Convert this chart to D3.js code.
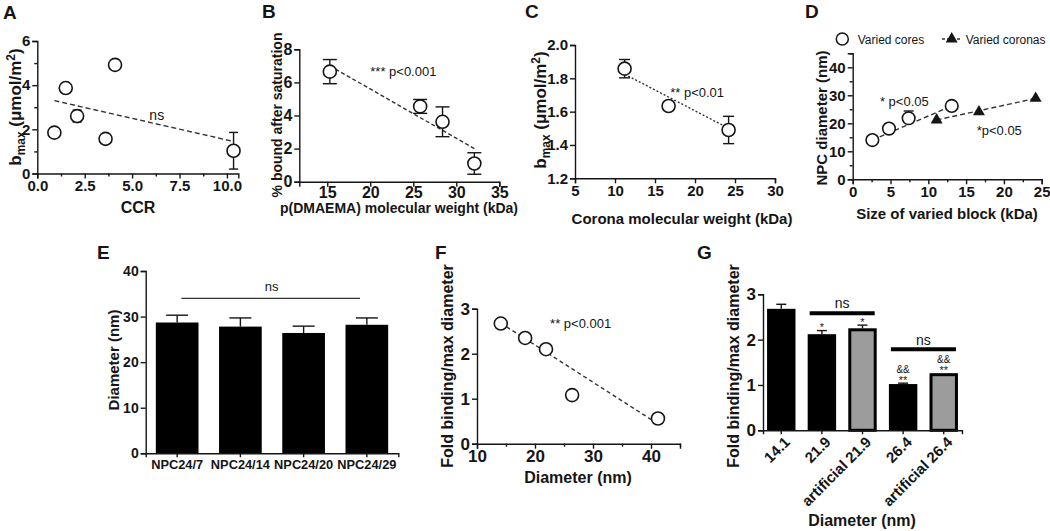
<!DOCTYPE html>
<html>
<head>
<meta charset="utf-8">
<script src="https://cdn.jsdelivr.net/npm/d3@7"></script>
<style>
  body { margin: 0; background: #fff; }
</style>
</head>
<body>
<div id="chart"></div>
<script>
var FONT = "'Liberation Sans', Arial, Helvetica, sans-serif";
var INK = "#151515";

// A - bmax vs CCR
var ccr = [0.9, 1.5, 2.1, 3.6, 4.1, 10.35];
var bmaxA = [1.85, 3.87, 2.6, 1.57, 4.92, 1.03];
var bmaxAErr = [0, 0, 0.27, 0, 0, 0.83];
var fitA = [[0.9, 3.3], [10.35, 1.45]];

// B - % bound vs p(DMAEMA) MW
var mwB = [15.3, 25.8, 28.4, 32.1];
var boundB = [6.65, 4.55, 3.62, 1.1];
var boundBErr = [0.73, 0.42, 0.9, 0.65];
var fitB = [[15.3, 7.0], [32.1, 2.0]];

// C - bmax vs corona MW
var mwC = [11.2, 16.7, 24.2];
var bmaxC = [1.858, 1.634, 1.49];
var bmaxCErr = [0.055, 0, 0.082];
var fitC = [[11.2, 1.825], [24.2, 1.5]];

// D - NPC diameter vs size of varied block
var coreSize = [2.6, 4.8, 7.4, 13.1];
var coreDiam = [14.0, 18.1, 21.8, 26.2];
var coreErrUp = [0, 0, 2.6, 0];
var coronaSize = [11.1, 16.7, 24.2];
var coronaDiam = [21.2, 24.1, 28.9];

// E - diameters
var npcNames = ["NPC24/7", "NPC24/14", "NPC24/20", "NPC24/29"];
var npcDiam = [28.7, 27.8, 26.4, 28.2];
var npcErr = [1.6, 1.9, 1.5, 1.5];

// F - fold binding vs diameter
var diamF = [14.1, 18.3, 21.9, 26.4, 41.2];
var foldF = [2.67, 2.35, 2.1, 1.08, 0.56];
var fitF = [[14.1, 2.68], [41.2, 0.44]];

// G - fold binding per diameter
var gNames = ["14.1", "21.9", "artificial 21.9", "26.4", "artificial 26.4"];
var gFold = [2.68, 2.12, 2.25, 1.02, 1.26];
var gErr = [0.1, 0.08, 0.07, 0.02, 0];
var gArtificial = [false, false, true, false, true];
var gStars = ["", "*", "*", "**", "**"];
var gAmp = ["", "", "", "&&", "&&"];

var svg = d3.select("#chart").append("svg")
    .attr("width", 1050)
    .attr("height", 531)
    .style("font-family", FONT);

svg.append("rect").attr("width", 1050).attr("height", 531).attr("fill", "#fff");

function styleAxis(g, fs) {
    g.selectAll("path.domain").attr("stroke", INK).attr("stroke-width", 1.4);
    g.selectAll(".tick line").attr("stroke", INK).attr("stroke-width", 1.4);
    g.selectAll("text").attr("font-family", FONT).attr("font-weight", "bold")
        .attr("font-size", fs).attr("fill", INK);
}

function xAxis(xs, y0, ticks, fmt, fs, pad, minor) {
    var g = svg.append("g").attr("transform", "translate(0," + y0 + ")")
        .call(d3.axisBottom(xs).tickValues(ticks).tickFormat(fmt)
            .tickSizeOuter(0).tickSize(5).tickPadding(pad));
    styleAxis(g, fs);
    if (minor) {
        var m = svg.append("g").attr("transform", "translate(0," + y0 + ")")
            .call(d3.axisBottom(xs).tickValues(minor).tickFormat("").tickSizeOuter(0).tickSize(3));
        m.select("path.domain").remove();
        styleAxis(m, fs);
    }
    return g;
}

function yAxis(ys, x0, ticks, fmt, fs, pad, minor) {
    var g = svg.append("g").attr("transform", "translate(" + x0 + ",0)")
        .call(d3.axisLeft(ys).tickValues(ticks).tickFormat(fmt)
            .tickSizeOuter(0).tickSize(5).tickPadding(pad));
    styleAxis(g, fs);
    if (minor) {
        var m = svg.append("g").attr("transform", "translate(" + x0 + ",0)")
            .call(d3.axisLeft(ys).tickValues(minor).tickFormat("").tickSizeOuter(0).tickSize(3));
        m.select("path.domain").remove();
        styleAxis(m, fs);
    }
    return g;
}

function text(x, y, s, fs, weight, anchor) {
    return svg.append("text").attr("x", x).attr("y", y)
        .attr("font-size", fs).attr("font-weight", weight || "normal")
        .attr("text-anchor", anchor || "start").attr("fill", INK).text(s);
}

function yTitle(x, y, s, fs) {
    return svg.append("text").attr("transform", "translate(" + x + "," + y + ") rotate(-90)")
        .attr("dy", "0.35em").attr("text-anchor", "middle")
        .attr("font-size", fs).attr("font-weight", "bold").attr("fill", INK).text(s);
}

function bmaxTitle(x, y, fs) {
    var t = svg.append("text").attr("transform", "translate(" + x + "," + y + ") rotate(-90)")
        .attr("dy", "0.35em").attr("text-anchor", "middle")
        .attr("font-size", fs).attr("font-weight", "bold").attr("fill", INK);
    t.append("tspan").text("b");
    t.append("tspan").attr("font-size", fs * 0.7).attr("dy", 4).text("max");
    t.append("tspan").attr("dy", -4).text(" (\u03bcmol/m");
    t.append("tspan").attr("font-size", fs * 0.7).attr("dy", -6).text("2");
    t.append("tspan").attr("dy", 6).text(")");
}

function fitLine(xs, ys, pts, dash) {
    svg.append("line")
        .attr("x1", xs(pts[0][0])).attr("y1", ys(pts[0][1]))
        .attr("x2", xs(pts[1][0])).attr("y2", ys(pts[1][1]))
        .attr("stroke", "#333").attr("stroke-width", 1.4)
        .attr("stroke-dasharray", dash);
}

function errBars(xs, ys, xv, yv, ev, cap, upOnly) {
    var g = svg.append("g").attr("stroke", INK).attr("stroke-width", 1.4);
    xv.forEach(function(xx, i) {
        if (!ev[i]) return;
        var lo = upOnly ? yv[i] : yv[i] - ev[i];
        var hi = yv[i] + ev[i];
        g.append("line").attr("x1", xs(xx)).attr("x2", xs(xx))
            .attr("y1", ys(lo)).attr("y2", ys(hi));
        g.append("line").attr("x1", xs(xx) - cap).attr("x2", xs(xx) + cap)
            .attr("y1", ys(hi)).attr("y2", ys(hi));
        if (!upOnly) {
            g.append("line").attr("x1", xs(xx) - cap).attr("x2", xs(xx) + cap)
                .attr("y1", ys(lo)).attr("y2", ys(lo));
        }
    });
}

function openCircles(xs, ys, xv, yv, r) {
    svg.append("g").selectAll("circle").data(xv).enter().append("circle")
        .attr("cx", function(d) { return xs(d); })
        .attr("cy", function(d, i) { return ys(yv[i]); })
        .attr("r", r)
        .attr("fill", "#fff").attr("stroke", INK).attr("stroke-width", 1.6);
}

// panel letters
[["A", 3, 19], ["B", 262, 18], ["C", 525, 18], ["D", 805, 18],
 ["E", 97, 259], ["F", 435, 259], ["G", 697, 259]].forEach(function(p) {
    text(p[1], p[2], p[0], 19, "bold");
});

// ---------- A ----------
var xA = d3.scaleLinear().domain([0, 10.6]).range([37.3, 238.3]);
var yA = d3.scaleLinear().domain([0, 6]).range([173.5, 41]);
xAxis(xA, 173.5, [0, 2.5, 5, 7.5, 10], d3.format(".1f"), 15, 2, [1.25, 3.75, 6.25, 8.75]);
yAxis(yA, 37.3, [0, 2, 4, 6], d3.format("d"), 15, 2, [1, 3, 5]);
fitLine(xA, yA, fitA, "5,3");
errBars(xA, yA, ccr, bmaxA, bmaxAErr, 4.5);
openCircles(xA, yA, ccr, bmaxA, 6.5);
text(xA(6.3), yA(2.42), "ns", 14, "normal", "middle");
text(138, 213, "CCR", 16, "bold", "middle");
bmaxTitle(15, 107, 17);

// ---------- B ----------
var xB = d3.scaleLinear().domain([11.75, 35]).range([299.3, 499.3]);
var yB = d3.scaleLinear().domain([0, 8]).range([181.7, 49.3]);
xAxis(xB, 181.7, [15, 20, 25, 30, 35], d3.format("d"), 16, 0);
yAxis(yB, 299.3, [0, 2, 4, 6, 8], d3.format("d"), 16, 2);
fitLine(xB, yB, fitB, "4,2.5");
errBars(xB, yB, mwB, boundB, boundBErr, 7);
openCircles(xB, yB, mwB, boundB, 6.5);
text(xB(20), yB(6.39), "*** p<0.001", 13, "normal", "start");
text(399, 213, "p(DMAEMA) molecular weight (kDa)", 14, "bold", "middle");
yTitle(277, 115, "% bound after saturation", 14);

// ---------- C ----------
var xC = d3.scaleLinear().domain([5, 30]).range([575, 775]);
var yC = d3.scaleLinear().domain([1.2, 2.0]).range([178.3, 45]);
xAxis(xC, 178.3, [5, 10, 15, 20, 25, 30], d3.format("d"), 15, 2);
yAxis(yC, 575, [1.2, 1.4, 1.6, 1.8, 2.0], d3.format(".1f"), 15, 2);
fitLine(xC, yC, fitC, "2,2");
errBars(xC, yC, mwC, bmaxC, bmaxCErr, 5.5);
openCircles(xC, yC, mwC, bmaxC, 6.5);
text(xC(16.9), yC(1.69), "** p<0.01", 13, "normal", "start");
text(682, 224, "Corona molecular weight (kDa)", 15, "bold", "middle");
bmaxTitle(540, 110, 17);

// ---------- D ----------
var xD = d3.scaleLinear().domain([0, 25]).range([852.7, 1041.7]);
var yD = d3.scaleLinear().domain([0, 45]).range([179.3, 53.3]);
xAxis(xD, 179.3, [0, 5, 10, 15, 20, 25], d3.format("d"), 15, 2, [2.5, 7.5, 12.5, 17.5, 22.5]);
yAxis(yD, 852.7, [0, 10, 20, 30, 40], d3.format("d"), 15, 2, [5, 15, 25, 35, 45]);
fitLine(xD, yD, [[coreSize[0], coreDiam[0]], [coreSize[3], coreDiam[3]]], "5,3");
fitLine(xD, yD, [[coronaSize[0], coronaDiam[0]], [coronaSize[2], coronaDiam[2]]], "5,3");
errBars(xD, yD, coreSize, coreDiam, coreErrUp, 5, true);
openCircles(xD, yD, coreSize, coreDiam, 6.3);
svg.append("g").selectAll("path").data(coronaSize).enter().append("path")
    .attr("d", d3.symbol(d3.symbolTriangle, 62))
    .attr("transform", function(d, i) { return "translate(" + xD(d) + "," + yD(coronaDiam[i]) + ")"; })
    .attr("fill", INK);
text(xD(3.6), yD(26.2), "* p<0.05", 13, "normal", "start");
text(xD(16.4), yD(15.8), "*p<0.05", 13, "normal", "start");
text(947, 219, "Size of varied block (kDa)", 15, "bold", "middle");
yTitle(822, 118, "NPC diameter (nm)", 15);
// legend
svg.append("circle").attr("cx", 842.3).attr("cy", 39).attr("r", 6)
    .attr("fill", "#fff").attr("stroke", INK).attr("stroke-width", 1.5);
text(857.7, 43.5, "Varied cores", 12, "normal", "start");
svg.append("line").attr("x1", 942).attr("x2", 961).attr("y1", 39).attr("y2", 39)
    .attr("stroke", "#333").attr("stroke-width", 1.4).attr("stroke-dasharray", "3,2");
svg.append("path").attr("d", d3.symbol(d3.symbolTriangle, 62))
    .attr("transform", "translate(951.7,39)").attr("fill", INK);
text(965.7, 43.5, "Varied coronas", 12, "normal", "start");

// ---------- E ----------
var xE = d3.scaleBand().domain(npcNames).range([145.7, 398.3]).paddingInner(0.325).paddingOuter(0.16);
var yE = d3.scaleLinear().domain([0, 40]).range([453.3, 271]);
svg.append("g").selectAll("rect").data(npcNames).enter().append("rect")
    .attr("x", function(d) { return xE(d); })
    .attr("y", function(d, i) { return yE(npcDiam[i]); })
    .attr("width", xE.bandwidth())
    .attr("height", function(d, i) { return yE(0) - yE(npcDiam[i]); })
    .attr("fill", "#000");
var gxE = svg.append("g").attr("transform", "translate(0,453.3)")
    .call(d3.axisBottom(xE).tickSizeOuter(0).tickSize(4).tickPadding(3));
styleAxis(gxE, 12.8);
yAxis(yE, 145.7, [0, 10, 20, 30, 40], d3.format("d"), 14, 2);
npcNames.forEach(function(n, i) {
    var cx = xE(n) + xE.bandwidth() / 2;
    svg.append("line").attr("x1", cx).attr("x2", cx)
        .attr("y1", yE(npcDiam[i])).attr("y2", yE(npcDiam[i] + npcErr[i]))
        .attr("stroke", INK).attr("stroke-width", 1.4);
    svg.append("line").attr("x1", cx - 11).attr("x2", cx + 11)
        .attr("y1", yE(npcDiam[i] + npcErr[i])).attr("y2", yE(npcDiam[i] + npcErr[i]))
        .attr("stroke", INK).attr("stroke-width", 1.4);
});
svg.append("line")
    .attr("x1", xE(npcNames[0]) + xE.bandwidth() * 0.6)
    .attr("x2", xE(npcNames[3]) + xE.bandwidth() * 0.34)
    .attr("y1", yE(34)).attr("y2", yE(34))
    .attr("stroke", "#333").attr("stroke-width", 1.2);
text(271.7, yE(35.6), "ns", 13, "normal", "middle");
yTitle(114, 360, "Diameter (nm)", 15);

// ---------- F ----------
var xF = d3.scaleLinear().domain([10, 45]).range([477, 680]);
var yF = d3.scaleLinear().domain([0, 3]).range([443.7, 308.7]);
xAxis(xF, 443.7, [10, 20, 30, 40], d3.format("d"), 17, 1, [15, 25, 35, 45]);
yAxis(yF, 477, [0, 1, 2, 3], d3.format("d"), 17, 2);
fitLine(xF, yF, fitF, "4,3");
openCircles(xF, yF, diamF, foldF, 6.5);
text(xF(22.6), yF(2.57), "** p<0.001", 13, "normal", "start");
text(578, 483, "Diameter (nm)", 16, "bold", "middle");
yTitle(447, 366, "Fold binding/max diameter", 16);

// ---------- G ----------
var xG = d3.scaleBand().domain(gNames).range([763, 962]).paddingInner(0.3).paddingOuter(0.1);
var yG = d3.scaleLinear().domain([0, 3]).range([430.3, 294.3]);
svg.append("g").selectAll("rect").data(gNames).enter().append("rect")
    .attr("x", function(d, i) { return xG(d) + (gArtificial[i] ? 1.5 : 0); })
    .attr("y", function(d, i) { return yG(gFold[i]) + (gArtificial[i] ? 1.5 : 0); })
    .attr("width", function(d, i) { return xG.bandwidth() - (gArtificial[i] ? 3 : 0); })
    .attr("height", function(d, i) { return yG(0) - yG(gFold[i]) - (gArtificial[i] ? 1.5 : 0); })
    .attr("fill", function(d, i) { return gArtificial[i] ? "#9c9c9c" : "#000"; })
    .attr("stroke", "#000")
    .attr("stroke-width", function(d, i) { return gArtificial[i] ? 3 : 0; });
gNames.forEach(function(n, i) {
    var cx = xG(n) + xG.bandwidth() / 2;
    var top = yG(gFold[i] + gErr[i]);
    if (gErr[i]) {
        svg.append("line").attr("x1", cx).attr("x2", cx)
            .attr("y1", yG(gFold[i])).attr("y2", top)
            .attr("stroke", INK).attr("stroke-width", 1.4);
        svg.append("line").attr("x1", cx - 5).attr("x2", cx + 5)
            .attr("y1", top).attr("y2", top)
            .attr("stroke", INK).attr("stroke-width", 1.4);
    }
    if (gStars[i]) text(cx, top + 0.5, gStars[i], 11, "normal", "middle");
    if (gAmp[i]) text(cx, top - 10, gAmp[i], 10, "normal", "middle");
});
var gxG = svg.append("g").attr("transform", "translate(0,430.3)")
    .call(d3.axisBottom(xG).tickSizeOuter(0).tickSize(4).tickPadding(0));
styleAxis(gxG, 15);
gxG.selectAll(".tick text")
    .attr("y", 0)
    .attr("text-anchor", "end")
    .attr("dy", "0.35em")
    .attr("transform", "translate(6,9) rotate(-45)");
yAxis(yG, 763, [0, 1, 2, 3], d3.format("d"), 17, 2);
// ns bars
[[1, 2, 2.58, 2.7], [3, 4, 1.79, 1.88]].forEach(function(s) {
    var x1 = xG(gNames[s[0]]) + 2, x2 = xG(gNames[s[1]]) + xG.bandwidth() - 2;
    svg.append("line").attr("x1", x1).attr("x2", x2)
        .attr("y1", yG(s[2])).attr("y2", yG(s[2]))
        .attr("stroke", "#000").attr("stroke-width", 4);
    text((x1 + x2) / 2, yG(s[3]), "ns", 14, "normal", "middle");
});
text(862, 526, "Diameter (nm)", 16, "bold", "middle");
yTitle(733, 366, "Fold binding/max diameter", 16);
</script>
</body>
</html>
